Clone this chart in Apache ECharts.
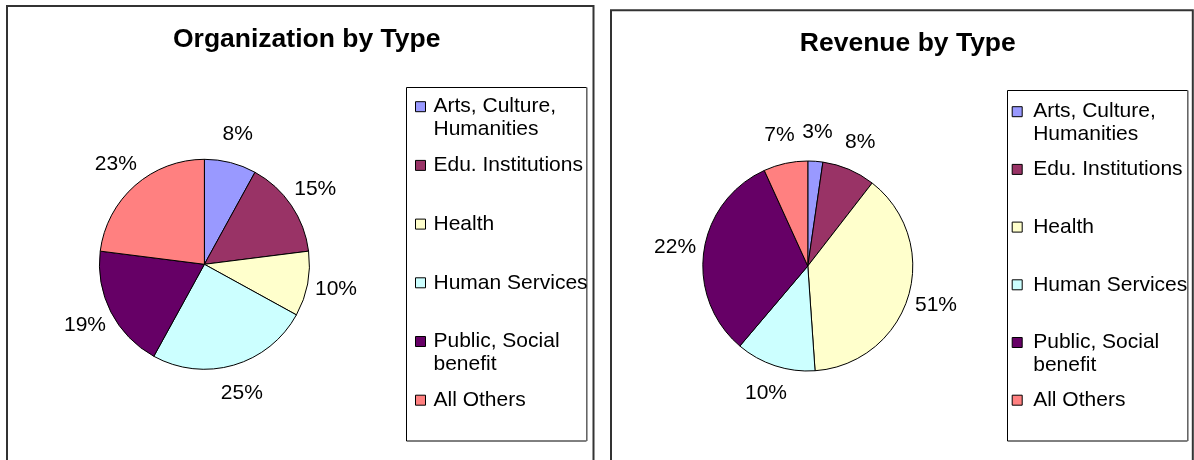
<!DOCTYPE html>
<html><head><meta charset="utf-8">
<script src="https://cdn.jsdelivr.net/npm/echarts@6/dist/echarts.min.js"></script>
<style>html,body{margin:0;padding:0;background:#fff}#c{width:1194px;height:460px}</style>
</head><body><div id="c"></div>
<script>
// ---- data ----
const categories = ['Arts, Culture, Humanities', 'Edu. Institutions', 'Health', 'Human Services', 'Public, Social benefit', 'All Others'];
const colors = ['#9999FF', '#993366', '#FFFFCC', '#CCFFFF', '#660066', '#FF8080'];
const orgShares = [8, 15, 10, 25, 19, 23];
// slice sizes as drawn in the revenue pie
const revenueSliceShares = [2.3, 8.2, 38.4, 12.3, 32.0, 6.8];
// percentages printed next to the revenue slices
const revenueLabelPct = [3, 8, 51, 10, 22, 7];
const titles = ['Organization by Type', 'Revenue by Type'];

// ---- styling ----
const FONT = "'Liberation Sans', Arial, sans-serif";

function wrapName(n) { return n.length > 18 ? n.replace(/ (\S+)$/, '\n$1') : n; }
function legendText(n) {
  const w = wrapName(n);
  return '\n' + w + (w.indexOf('\n') < 0 ? '\n' : '');
}

function pieSeries(center, values, labelFn) {
  return [
    {
      type: 'pie', center: center, radius: 105, startAngle: 90, clockwise: true,
      data: categories.map((c, i) => ({ name: c, value: values[i], itemStyle: { color: colors[i] } })),
      label: { show: false }, labelLine: { show: false },
      itemStyle: { borderColor: '#000', borderWidth: 1 },
      emphasis: { disabled: true }, silent: true, animation: false
    },
    {
      type: 'pie', center: center, radius: [124, 138], startAngle: 90, clockwise: true,
      percentPrecision: 0,
      data: categories.map((c, i) => ({ name: c, value: values[i] })),
      itemStyle: { color: 'rgba(0,0,0,0)', borderWidth: 0 },
      label: { show: true, position: 'inside', formatter: labelFn, fontFamily: FONT, fontSize: 21, color: '#000' },
      labelLine: { show: false },
      emphasis: { disabled: true }, silent: true, animation: false
    }
  ];
}

function legendOf(left, top, gap, textPad) {
  return {
    data: categories, orient: 'vertical', left: left, top: top, padding: 0,
    itemWidth: 10, itemHeight: 10, itemGap: gap, icon: 'rect', selectedMode: false,
    formatter: legendText,
    itemStyle: { borderColor: '#000', borderWidth: 1 },
    textStyle: { fontFamily: FONT, fontSize: 21, lineHeight: 23, color: '#000', padding: [0, 0, 0, textPad] }
  };
}

const chart = echarts.init(document.getElementById('c'), null, { renderer: 'canvas' });
chart.setOption({
  animation: false,
  backgroundColor: '#fff',
  title: [
    { text: titles[0], left: 306.7, top: 26, textAlign: 'center', padding: 0,
      textStyle: { fontFamily: FONT, fontSize: 26.5, fontWeight: 'bold', color: '#000' } },
    { text: titles[1], left: 907.8, top: 30, textAlign: 'center', padding: 0,
      textStyle: { fontFamily: FONT, fontSize: 26.5, fontWeight: 'bold', color: '#000' } }
  ],
  legend: [legendOf(415, 72.2, -10.3, 3), legendOf(1011.7, 77.2, -11.3, 6)],
  graphic: [
    { type: 'rect', silent: true, z: -1, shape: { x: 7, y: 6, width: 586.5, height: 520 }, style: { fill: 'none', stroke: '#333', lineWidth: 2 } },
    { type: 'rect', silent: true, z: -1, shape: { x: 611, y: 10.3, width: 581.8, height: 520 }, style: { fill: 'none', stroke: '#333', lineWidth: 2 } },
    { type: 'rect', silent: true, z: -1, shape: { x: 406.5, y: 87.5, width: 180, height: 353.5 }, style: { fill: 'none', stroke: '#000', lineWidth: 1 } },
    { type: 'line', silent: true, z: -1, shape: { x1: 587, y1: 87.5, x2: 587, y2: 441 }, style: { stroke: '#888', lineWidth: 1.5 } },
    { type: 'rect', silent: true, z: -1, shape: { x: 1007.5, y: 90.5, width: 180, height: 350.5 }, style: { fill: 'none', stroke: '#000', lineWidth: 1 } },
    { type: 'line', silent: true, z: -1, shape: { x1: 1188, y1: 90.5, x2: 1188, y2: 441 }, style: { stroke: '#888', lineWidth: 1.5 } }
  ],
  series: [].concat(
    pieSeries([204.4, 264.3], orgShares, '{d}%'),
    pieSeries([807.8, 266], revenueSliceShares, p => revenueLabelPct[p.dataIndex] + '%')
  )
});
</script>
</body></html>
